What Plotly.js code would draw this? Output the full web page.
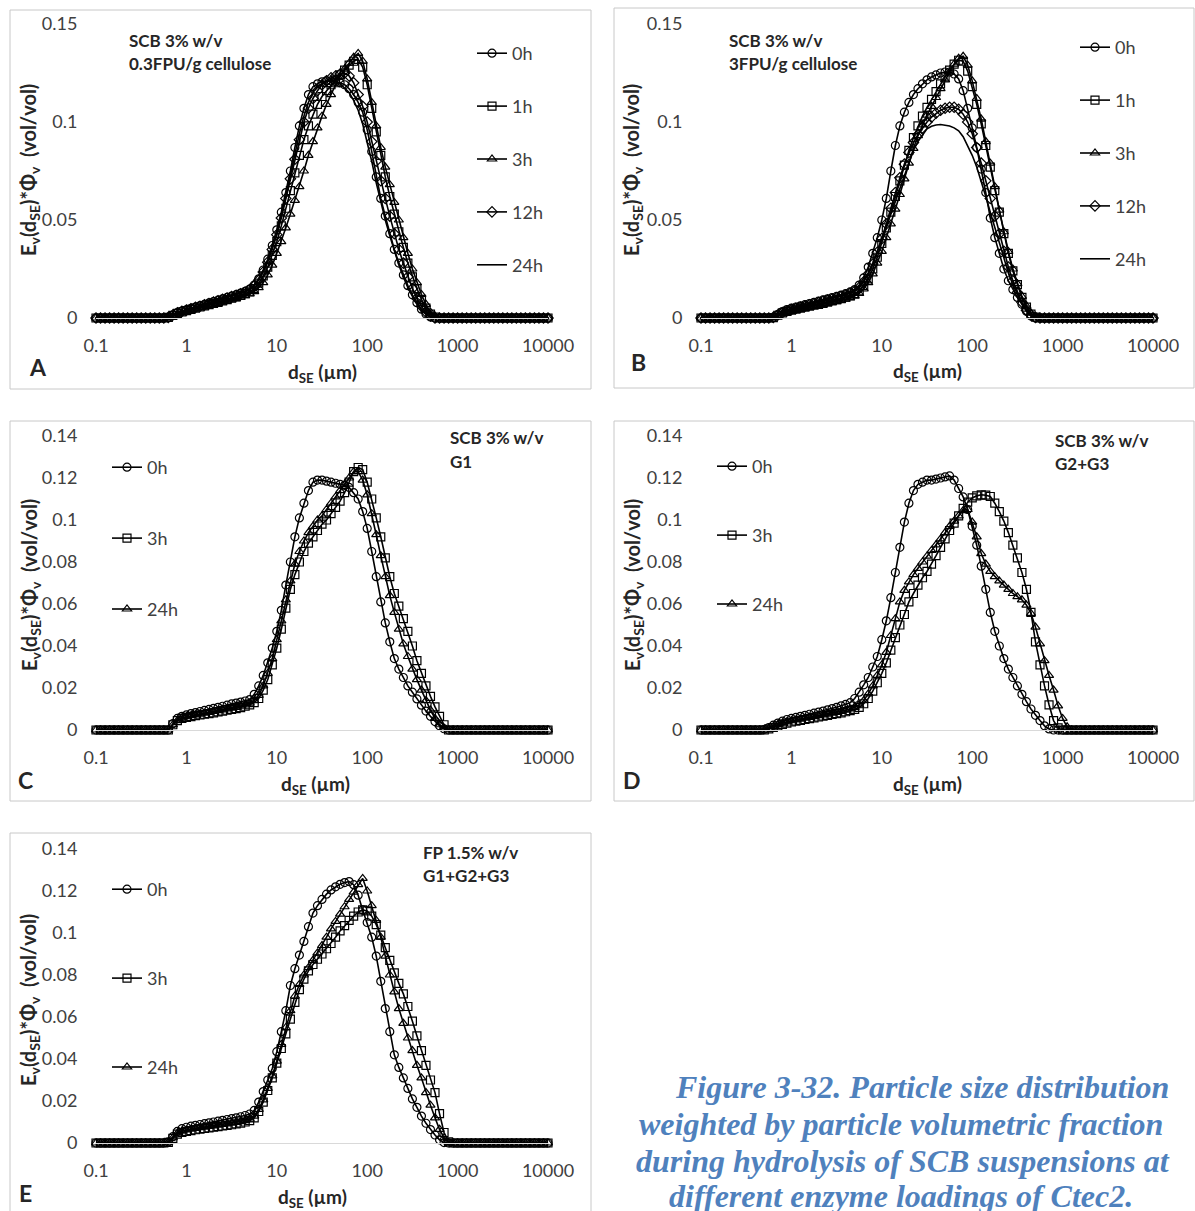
<!DOCTYPE html>
<html>
<head>
<meta charset="utf-8">
<script src="https://cdn.plot.ly/plotly-3.0.1.min.js"></script>
<style>html,body{margin:0;padding:0;background:#fff;}#chart{width:1195px;height:1211px;}</style>
</head>
<body>
<div id="chart"></div>
<script>
// ---------------- DATA ----------------
// particle size grid d_SE (µm), log spaced
const dSE = [
0.1,0.1122,0.1259,0.1413,0.1585,0.1778,0.1995,0.2239,0.2512,0.2818,
0.3162,0.3548,0.3981,0.4467,0.5012,0.5623,0.631,0.7079,0.7943,0.8913,
1,1.122,1.259,1.413,1.585,1.778,1.995,2.239,2.512,2.818,
3.162,3.548,3.981,4.467,5.012,5.623,6.31,7.079,7.943,8.913,
10,11.22,12.59,14.13,15.85,17.78,19.95,22.39,25.12,28.18,
31.62,35.48,39.81,44.67,50.12,56.23,63.1,70.79,79.43,89.13,
100,112.2,125.9,141.3,158.5,177.8,199.5,223.9,251.2,281.8,
316.2,354.8,398.1,446.7,501.2,562.3,631,707.9,794.3,891.3,
1000,1122,1259,1413,1585,1778,1995,2239,2512,2818,
3162,3548,3981,4467,5012,5623,6310,7079,7943,8913,
10000];

const xTickVals = [0.1,1,10,100,1000,10000];
const xTickText = ['0.1','1','10','100','1000','10000'];
const yTickValsAB = [0,0.05,0.1,0.15];
const yTickTextAB = ['0','0.05','0.1','0.15'];
const yTickValsCDE = [0,0.02,0.04,0.06,0.08,0.1,0.12,0.14];
const yTickTextCDE = ['0','0.02','0.04','0.06','0.08','0.1','0.12','0.14'];

// Panel A: SCB 3% w/v, 0.3FPU/g cellulose
const A_0h = [0,0,0,0,0,0,0,0,0,0,0,0,0,0,0,0,
.0003,.0015,.0027,.0035,.0042,.0049,.0056,.0063,.007,.0077,
.0084,.0091,.0098,.0105,.0112,.0119,.0127,.0136,.0148,.0168,
.02,.0245,.03,.037,.045,.054,.064,.075,.087,.098,
.107,.114,.118,.1195,.1205,.121,.121,.1205,.12,.119,
.117,.114,.11,.105,.096,.085,.072,.061,.052,.043,
.035,.028,.022,.0165,.0118,.0078,.0045,.002,.0005,0,
0,0,0,
0,0,0,0,0,0,0,0,0,0,0,0,0,0,0,0,0,0,0,0,0,0];
const A_1h = [0,0,0,0,0,0,0,0,0,0,0,0,0,0,0,0,
.0003,.0013,.0024,.0031,.0038,.0044,.005,.0056,.0062,.0068,
.0074,.008,.0087,.0094,.0101,.0108,.0115,.0124,.0134,.015,
.0178,.0215,.026,.032,.039,.047,.056,.065,.074,.083,
.091,.098,.104,.109,.113,.116,.119,.1215,.124,.1265,
.129,.131,.132,.128,.119,.107,.095,.083,.072,.062,
.053,.044,.036,.028,.021,.015,.0095,.005,.002,.0005,
0,0,0,
0,0,0,0,0,0,0,0,0,0,0,0,0,0,0,0,0,0,0,0,0,0];
const A_3h = [0,0,0,0,0,0,0,0,0,0,0,0,0,0,0,0,
.0002,.001,.002,.0027,.0033,.0039,.0045,.0051,.0057,.0063,
.0069,.0075,.0081,.0087,.0093,.0099,.0106,.0114,.0123,.0135,
.0155,.018,.022,.027,.033,.039,.046,.053,.06,.067,
.075,.083,.09,.097,.103,.109,.114,.119,.123,.127,
.13,.133,.135,.131,.122,.11,.098,.087,.077,.068,
.059,.05,.041,.033,.025,.018,.012,.007,.003,.001,
0,0,0,
0,0,0,0,0,0,0,0,0,0,0,0,0,0,0,0,0,0,0,0,0,0];
const A_12h = [0,0,0,0,0,0,0,0,0,0,0,0,0,0,0,0,
.0003,.0015,.0026,.0034,.004,.0047,.0054,.006,.0067,.0074,
.0081,.0088,.0095,.0102,.0109,.0116,.0124,.0133,.0145,.0163,
.0193,.0235,.0285,.035,.0425,.051,.061,.071,.081,.091,
.1,.107,.112,.116,.119,.121,.1225,.1235,.1245,.125,
.1235,.12,.114,.108,.1,.09,.08,.07,.061,.052,
.043,.035,.028,.021,.015,.01,.006,.003,.001,0,
0,0,0,
0,0,0,0,0,0,0,0,0,0,0,0,0,0,0,0,0,0,0,0,0,0];
const A_24h = [0,0,0,0,0,0,0,0,0,0,0,0,0,0,0,0,
.0003,.0016,.0028,.0036,.0043,.005,.0057,.0064,.0071,.0078,
.0085,.0092,.0099,.0106,.0113,.012,.0128,.0137,.0149,.0168,
.0199,.024,.0292,.0355,.043,.052,.062,.073,.084,.094,
.103,.11,.115,.118,.1195,.1205,.121,.1205,.1195,.1175,
.115,.111,.106,.099,.09,.08,.069,.059,.05,.042,
.034,.027,.021,.0155,.011,.007,.004,.0018,.0005,0,
0,0,0,
0,0,0,0,0,0,0,0,0,0,0,0,0,0,0,0,0,0,0,0,0,0];

// Panel B: SCB 3% w/v, 3FPU/g cellulose
const B_0h = [0,0,0,0,0,0,0,0,0,0,0,0,0,0,0,0,
.0003,.0018,.0033,.0043,.005,.0056,.0062,.0068,.0074,.008,
.0086,.0092,.0098,.0104,.011,.0117,.0124,.0133,.0145,.0168,
.0205,.026,.033,.041,.05,.061,.075,.088,.098,.105,
.11,.114,.117,.1195,.1215,.123,.124,.125,.1255,.1255,
.1245,.122,.116,.107,.097,.087,.076,.064,.051,.041,
.033,.025,.019,.0145,.0105,.007,.0035,.001,0,0,
0,0,0,
0,0,0,0,0,0,0,0,0,0,0,0,0,0,0,0,0,0,0,0,0,0];
const B_1h = [0,0,0,0,0,0,0,0,0,0,0,0,0,0,0,0,
.0002,.0014,.0026,.0034,.004,.0045,.005,.0055,.006,.0065,
.007,.0075,.0081,.0087,.0093,.0099,.0106,.0114,.0124,.0139,
.0165,.02,.025,.031,.038,.046,.054,.062,.07,.078,
.0855,.092,.098,.103,.1075,.1115,.1155,.1195,.123,.1265,
.1295,.1315,.131,.126,.118,.109,.099,.088,.077,.065,
.054,.043,.033,.024,.017,.0105,.0055,.002,.0004,0,
0,0,0,
0,0,0,0,0,0,0,0,0,0,0,0,0,0,0,0,0,0,0,0,0,0];
const B_3h = [0,0,0,0,0,0,0,0,0,0,0,0,0,0,0,0,
.0002,.0012,.0022,.0029,.0034,.0039,.0044,.0049,.0054,.0059,
.0064,.0069,.0074,.0079,.0084,.009,.0096,.0103,.0112,.0125,
.0148,.018,.0225,.028,.034,.041,.048,.0555,.063,.071,
.079,.0865,.093,.0985,.1035,.108,.1125,.117,.1215,.1255,
.1295,.1325,.1335,.129,.121,.112,.1015,.09,.079,.067,
.055,.044,.034,.025,.0175,.011,.006,.0025,.0005,0,
0,0,0,
0,0,0,0,0,0,0,0,0,0,0,0,0,0,0,0,0,0,0,0,0,0];
const B_12h = [0,0,0,0,0,0,0,0,0,0,0,0,0,0,0,0,
.0003,.0015,.0027,.0036,.0043,.0049,.0055,.0061,.0067,.0073,
.0079,.0085,.0091,.0097,.0103,.011,.0117,.0126,.0137,.0155,
.0185,.0225,.0275,.0335,.0405,.048,.056,.064,.0715,.0785,
.0845,.0895,.0935,.097,.1,.1025,.1045,.106,.107,.1075,
.1075,.1065,.104,.1,.094,.087,.079,.07,.061,.052,
.043,.034,.026,.019,.013,.008,.004,.0015,.0003,0,
0,0,0,
0,0,0,0,0,0,0,0,0,0,0,0,0,0,0,0,0,0,0,0,0,0];
const B_24h = [0,0,0,0,0,0,0,0,0,0,0,0,0,0,0,0,
.0003,.0016,.0028,.0037,.0044,.005,.0056,.0062,.0068,.0074,
.008,.0086,.0092,.0098,.0105,.0112,.012,.0129,.014,.0158,
.019,.023,.028,.034,.041,.047,.053,.0595,.066,.0735,
.08,.0855,.09,.0935,.0965,.0978,.0985,.0987,.0985,.098,
.097,.0955,.0925,.088,.083,.077,.07,.062,.054,.046,
.038,.03,.023,.017,.012,.0075,.004,.0015,.0003,0,
0,0,0,
0,0,0,0,0,0,0,0,0,0,0,0,0,0,0,0,0,0,0,0,0,0];

// Panel C: SCB 3% w/v, G1
const C_0h = [0,0,0,0,0,0,0,0,0,0,0,0,0,0,0,0,
0,.003,.0055,.0065,.0072,.0078,.0083,.0088,.0093,.0098,
.0103,.0108,.0113,.0118,.0124,.0128,.0133,.0138,.0145,.017,
.021,.026,.032,.039,.047,.057,.069,.08,.092,.101,
.108,.114,.118,.119,.119,.1185,.118,.1175,.117,.1165,
.1155,.113,.11,.104,.096,.085,.073,.061,.051,.042,
.034,.029,.025,.021,.018,.0148,.0118,.009,.0065,.004,
.002,.0006,0,
0,0,0,0,0,0,0,0,0,0,0,0,0,0,0,0,0,0,0,0,0,0];
const C_3h = [0,0,0,0,0,0,0,0,0,0,0,0,0,0,0,0,
0,.0025,.0045,.0055,.006,.0064,.0068,.0072,.0075,.0078,
.0082,.0086,.009,.0094,.0098,.0102,.0107,.0113,.012,.013,
.015,.019,.024,.031,.039,.048,.058,.067,.074,.08,
.085,.089,.092,.095,.098,.1,.103,.106,.109,.113,
.118,.123,.125,.124,.118,.11,.101,.092,.082,.073,
.065,.059,.053,.047,.04,.033,.027,.021,.016,.011,
.0065,.0025,0,
0,0,0,0,0,0,0,0,0,0,0,0,0,0,0,0,0,0,0,0,0,0];
const C_24h = [0,0,0,0,0,0,0,0,0,0,0,0,0,0,0,0,
0,.0025,.0045,.0057,.0063,.0068,.0072,.0076,.008,.0084,
.0088,.0092,.0096,.01,.0104,.0108,.0113,.012,.0128,.014,
.0165,.021,.027,.034,.043,.052,.062,.071,.079,.085,
.09,.094,.097,.1,.102,.105,.108,.111,.114,.117,
.12,.123,.123,.119,.112,.103,.093,.083,.073,.064,
.056,.048,.041,.035,.029,.024,.019,.014,.0095,.0055,
.0025,.0008,0,
0,0,0,0,0,0,0,0,0,0,0,0,0,0,0,0,0,0,0,0,0,0];

// Panel D: SCB 3% w/v, G2+G3
const D_0h = [0,0,0,0,0,0,0,0,0,0,0,0,0,0,
.0003,.0012,.0023,.0033,.0042,.005,.0055,.006,.0065,.007,
.0075,.008,.0085,.009,.0096,.0102,.0108,.0115,.0122,.013,
.015,.018,.0215,.025,.03,.035,.043,.052,.063,.075,
.087,.099,.108,.114,.117,.118,.119,.119,.1195,.12,
.1205,.121,.119,.115,.111,.105,.097,.088,.078,.067,
.056,.047,.04,.034,.029,.025,.021,.017,.0135,.01,
.007,.0045,.002,.0005,0,0,0,0,0,0,
0,
0,0,0,0,0,0,0,0,0,0,0,0,0,0,0,0];
const D_3h = [0,0,0,0,0,0,0,0,0,0,0,0,0,0,
0,.0005,.0012,.002,.0027,.0033,.0038,.0042,.0046,.005,
.0054,.0058,.0062,.0066,.007,.0074,.0078,.0082,.0087,.0092,
.0098,.0108,.0125,.015,.0185,.0225,.027,.032,.038,.044,
.05,.055,.061,.065,.069,.0725,.0755,.079,.083,.087,
.091,.095,.0985,.102,.1055,.1085,.1105,.1115,.112,.1118,
.1112,.108,.104,.0995,.094,.088,.082,.075,.067,.056,
.042,.031,.021,.012,.0045,.001,0,0,0,0,
0,
0,0,0,0,0,0,0,0,0,0,0,0,0,0,0,0];
const D_24h = [0,0,0,0,0,0,0,0,0,0,0,0,0,0,
0,.0008,.0017,.0026,.0033,.0039,.0044,.0048,.0052,.0056,
.006,.0064,.0068,.0072,.0076,.008,.0084,.0089,.0094,.01,
.0108,.012,.014,.0172,.021,.026,.031,.037,.045,.053,
.061,.0665,.0705,.074,.077,.08,.0828,.0855,.0882,.091,
.094,.097,.0995,.102,.1045,.105,.099,.092,.084,.079,
.0755,.073,.071,.069,.067,.065,.0635,.062,.0595,.0555,
.049,.041,.033,.026,.019,.0115,.0055,.0015,0,0,
0,
0,0,0,0,0,0,0,0,0,0,0,0,0,0,0,0];

// Panel E: FP 1.5% w/v, G1+G2+G3
const E_0h = [0,0,0,0,0,0,0,0,0,0,0,0,0,0,0,0,
.0005,.003,.0055,.0068,.0075,.008,.0084,.0088,.0092,.0096,
.01,.0104,.0108,.0112,.0116,.012,.0125,.0131,.0138,.0155,
.0195,.0245,.03,.0355,.0435,.053,.063,.075,.083,.0895,
.096,.103,.1095,.113,.116,.1185,.1205,.122,.1232,.124,
.1245,.123,.118,.111,.105,.098,.089,.077,.064,.053,
.042,.036,.031,.026,.021,.017,.0128,.0094,.0064,.0038,
.0015,.0002,0,
0,0,0,0,0,0,0,0,0,0,0,0,0,0,0,0,0,0,0,0,0,0];
const E_3h = [0,0,0,0,0,0,0,0,0,0,0,0,0,0,0,0,
.0003,.0022,.0042,.005,.0055,.0059,.0063,.0066,.0069,.0072,
.0075,.0078,.0081,.0084,.0087,.0091,.0095,.01,.0107,.012,
.015,.0195,.025,.031,.038,.045,.052,.059,.067,.073,
.078,.082,.085,.0875,.09,.0925,.095,.098,.101,.1035,
.106,.108,.11,.111,.1105,.108,.104,.099,.093,.087,
.081,.076,.071,.065,.058,.051,.044,.037,.03,.024,
.014,.005,.0005,
0,0,0,0,0,0,0,0,0,0,0,0,0,0,0,0,0,0,0,0,0,0];
const E_24h = [0,0,0,0,0,0,0,0,0,0,0,0,0,0,0,0,
.0004,.0025,.0047,.0057,.0062,.0066,.007,.0073,.0076,.0079,
.0082,.0085,.0088,.0091,.0094,.0098,.0102,.0107,.0114,.0128,
.016,.0205,.026,.032,.039,.047,.055,.063,.07,.0755,
.08,.0835,.087,.0905,.094,.098,.102,.1055,.109,.1125,
.116,.1195,.123,.126,.12,.113,.106,.098,.089,.08,
.072,.064,.057,.05,.044,.037,.031,.024,.018,.012,
.0065,.0025,.0003,
0,0,0,0,0,0,0,0,0,0,0,0,0,0,0,0,0,0,0,0,0,0];

// ---------------- LAYOUT HELPERS ----------------
const W = 1195, H = 1211;
const px = v => v / W;
const py = v => 1 - v / H;
const FONT = 'Lato, "Open Sans", sans-serif';
const TXT = '#404040';

function tr(y, name, sym, ax, leg) {
  const t = {
    type: 'scatter', x: dSE, y: y, name: name,
    xaxis: 'x' + ax, yaxis: 'y' + ax, legend: leg, legendgroup: leg + name,
    mode: sym ? 'lines+markers' : 'lines',
    line: {color: '#000', width: 1.6},
    cliponaxis: false, hoverinfo: 'skip'
  };
  if (sym) t.marker = {symbol: sym, size: 8, color: '#000', line: {width: 1.2, color: '#000'}};
  return t;
}

const traces = [
  tr(A_0h, '0h', 'circle-open', '', 'legend'),
  tr(A_1h, '1h', 'square-open', '', 'legend'),
  tr(A_3h, '3h', 'triangle-up-open', '', 'legend'),
  tr(A_12h, '12h', 'diamond-open', '', 'legend'),
  tr(A_24h, '24h', null, '', 'legend'),
  tr(B_0h, '0h', 'circle-open', '2', 'legend2'),
  tr(B_1h, '1h', 'square-open', '2', 'legend2'),
  tr(B_3h, '3h', 'triangle-up-open', '2', 'legend2'),
  tr(B_12h, '12h', 'diamond-open', '2', 'legend2'),
  tr(B_24h, '24h', null, '2', 'legend2'),
  tr(C_0h, '0h', 'circle-open', '3', 'legend3'),
  tr(C_3h, '3h', 'square-open', '3', 'legend3'),
  tr(C_24h, '24h', 'triangle-up-open', '3', 'legend3'),
  tr(D_0h, '0h', 'circle-open', '4', 'legend4'),
  tr(D_3h, '3h', 'square-open', '4', 'legend4'),
  tr(D_24h, '24h', 'triangle-up-open', '4', 'legend4'),
  tr(E_0h, '0h', 'circle-open', '5', 'legend5'),
  tr(E_3h, '3h', 'square-open', '5', 'legend5'),
  tr(E_24h, '24h', 'triangle-up-open', '5', 'legend5')
];

const panels = [
  {k: '', x0: 96, x1: 548, y0: 24, y1: 318, ymax: 0.15, tv: yTickValsAB, tt: yTickTextAB},
  {k: '2', x0: 701, x1: 1153, y0: 24, y1: 318, ymax: 0.15, tv: yTickValsAB, tt: yTickTextAB},
  {k: '3', x0: 96, x1: 548, y0: 436, y1: 730, ymax: 0.14, tv: yTickValsCDE, tt: yTickTextCDE},
  {k: '4', x0: 701, x1: 1153, y0: 436, y1: 730, ymax: 0.14, tv: yTickValsCDE, tt: yTickTextCDE},
  {k: '5', x0: 96, x1: 548, y0: 849, y1: 1143, ymax: 0.14, tv: yTickValsCDE, tt: yTickTextCDE}
];

const layout = {
  width: W, height: H, margin: {l: 0, r: 0, t: 0, b: 0},
  paper_bgcolor: '#fff', plot_bgcolor: 'rgba(0,0,0,0)',
  font: {family: FONT, color: TXT},
  showlegend: true, annotations: [], shapes: []
};

const tickFont = {family: FONT, size: 18, color: TXT};
panels.forEach(p => {
  layout['xaxis' + p.k] = {
    domain: [px(p.x0), px(p.x1)], anchor: 'y' + p.k, type: 'log', range: [-1, 4],
    tickmode: 'array', tickvals: xTickVals, ticktext: xTickText,
    showgrid: false, zeroline: false, showline: true, linecolor: '#d9d9d9', linewidth: 1,
    ticks: 'outside', ticklen: 11, tickcolor: 'rgba(0,0,0,0)', tickfont: tickFont, fixedrange: true
  };
  layout['yaxis' + p.k] = {
    domain: [py(p.y1), py(p.y0)], anchor: 'x' + p.k, range: [0, p.ymax],
    tickmode: 'array', tickvals: p.tv, ticktext: p.tt,
    showgrid: false, zeroline: false, showline: false,
    ticks: 'outside', ticklen: 14, tickcolor: 'rgba(0,0,0,0)', tickfont: tickFont, fixedrange: true
  };
});

function legendAt(x, y, gap) {
  return {x: px(x), y: py(y), xanchor: 'left', yanchor: 'top', bgcolor: 'rgba(0,0,0,0)',
    borderwidth: 0, font: {family: FONT, size: 18, color: TXT}, tracegroupgap: gap,
    traceorder: 'grouped', itemwidth: 30};
}
layout.legend = legendAt(472, 35, 26.5);
layout.legend2 = legendAt(1075, 29, 26.5);
layout.legend3 = legendAt(107, 449, 44.5);
layout.legend4 = legendAt(712, 448, 42.5);
layout.legend5 = legendAt(107, 871, 62.5);

// panel frames
[[10, 10, 591, 389], [614, 8, 1194, 388], [10, 421, 591, 801], [614, 421, 1194, 801], [10, 833, 591, 1215]]
  .forEach(b => layout.shapes.push({type: 'rect', xref: 'paper', yref: 'paper',
    x0: px(b[0]), x1: px(b[2]), y0: py(b[3]), y1: py(b[1]), line: {color: '#c8c8c8', width: 1}}));

function ann(text, x, y, size, opts) {
  layout.annotations.push(Object.assign({text: text, xref: 'paper', yref: 'paper', x: px(x), y: py(y),
    showarrow: false, xanchor: 'left', yanchor: 'middle', font: {family: FONT, size: size, color: '#262626'}}, opts || {}));
}
const yTitle = '<b>E<sub>v</sub>(d<sub>SE</sub>)*Φ<sub>v</sub>  (vol/vol)</b>';
const xTitle = '<b>d<sub>SE</sub> (µm)</b>';
// titles, sample labels, panel letters
[[30, 170], [633, 170], [30, 585], [633, 585], [30, 1000]].forEach(c =>
  ann(yTitle, c[0], c[1], 20, {textangle: -90, xanchor: 'center'}));
[[322, 373], [927, 372], [315, 785], [927, 785], [312, 1198]].forEach(c =>
  ann(xTitle, c[0], c[1], 19, {xanchor: 'center'}));
ann('<b>SCB 3% w/v</b>', 127, 40, 17); ann('<b>0.3FPU/g cellulose</b>', 127, 63, 17);
ann('<b>SCB 3% w/v</b>', 727, 40, 17); ann('<b>3FPU/g cellulose</b>', 727, 63, 17);
ann('<b>SCB 3% w/v</b>', 448, 437, 17); ann('<b>G1</b>', 448, 461, 17);
ann('<b>SCB 3% w/v</b>', 1053, 440, 17); ann('<b>G2+G3</b>', 1053, 463, 17);
ann('<b>FP 1.5% w/v</b>', 421, 852, 17); ann('<b>G1+G2+G3</b>', 421, 875, 17);
ann('<b>A</b>', 38, 367, 23, {xanchor: 'center'});
ann('<b>B</b>', 638, 362, 23, {xanchor: 'center'});
ann('<b>C</b>', 26, 780, 23, {xanchor: 'center'});
ann('<b>D</b>', 632, 780, 23, {xanchor: 'center'});
ann('<b>E</b>', 25, 1193, 23, {xanchor: 'center'});

// caption
const capFont = {family: '"Liberation Serif", "Times New Roman", serif', size: 32, color: '#4f81bd'};
[['Figure 3-32. Particle size distribution', 922, 1087],
 ['weighted by particle volumetric fraction', 901, 1124],
 ['during hydrolysis of SCB suspensions at', 903, 1161],
 ['different enzyme loadings of Ctec2.', 901, 1196]].forEach(c =>
  ann('<b><i>' + c[0] + '</i></b>', c[1], c[2], 32, {xanchor: 'center', font: capFont}));

Plotly.newPlot('chart', traces, layout, {staticPlot: true, displayModeBar: false});
</script>
</body>
</html>
